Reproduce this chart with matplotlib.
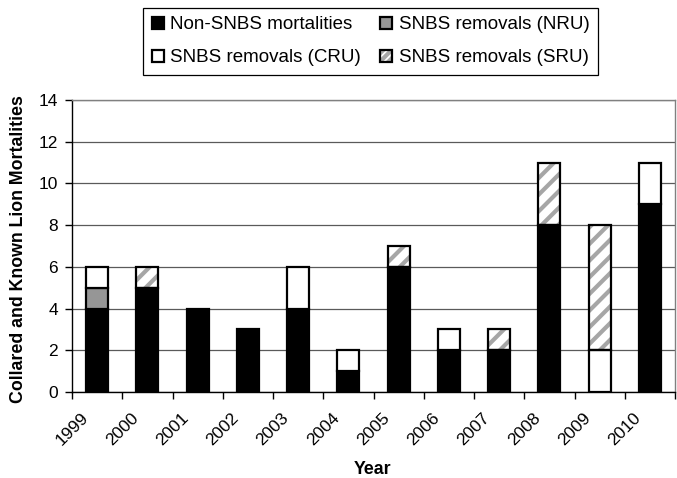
import numpy as np
import matplotlib
matplotlib.use("Agg")
import matplotlib.pyplot as plt
from matplotlib.patches import Patch

# ---- data ----
years = ["1999", "2000", "2001", "2002", "2003", "2004",
         "2005", "2006", "2007", "2008", "2009", "2010"]
non_snbs = [4, 5, 4, 3, 4, 1, 6, 2, 2, 8, 0, 9]
nru      = [1, 0, 0, 0, 0, 0, 0, 0, 0, 0, 0, 0]
cru      = [1, 0, 0, 0, 2, 1, 0, 1, 0, 0, 2, 2]
sru      = [0, 1, 0, 0, 0, 0, 1, 0, 1, 3, 6, 0]
series_labels = ["Non-SNBS mortalities", "SNBS removals (NRU)",
                 "SNBS removals (CRU)", "SNBS removals (SRU)"]
y_ticks = [0, 2, 4, 6, 8, 10, 12, 14]

plt.rcParams['font.family'] = ['Liberation Sans', 'DejaVu Sans']
plt.rcParams['hatch.linewidth'] = 3.0

fig = plt.figure(figsize=(6.77, 4.78), dpi=100)
ax = fig.add_axes([72/677, 1-392/478, 603/677, 292/478])

x = np.arange(len(years))
width = 0.44
edge_lw = 1.6
hatch_gray = '#a6a6a6'

styles = [dict(color='black'), dict(color='#969696'),
          dict(color='white'), dict(color='white', hatch='//')]
bottom = np.zeros(len(years))
for vals, st in zip([non_snbs, nru, cru, sru], styles):
    v = np.array(vals, dtype=float)
    m = v > 0
    if st.get('hatch'):
        ax.bar(x[m], v[m], width, bottom=bottom[m], facecolor='white',
               edgecolor=hatch_gray, hatch=st['hatch'], linewidth=0, zorder=3)
        ax.bar(x[m], v[m], width, bottom=bottom[m], fill=False,
               edgecolor='black', linewidth=edge_lw, zorder=4)
    else:
        ax.bar(x[m], v[m], width, bottom=bottom[m], facecolor=st['color'],
               edgecolor='black', linewidth=edge_lw, zorder=4)
    bottom += v

ax.set_xlim(-0.5, len(years) - 0.5)
ax.set_ylim(0, 14)
ax.set_yticks(y_ticks)
ax.set_yticklabels([str(t) for t in y_ticks], fontsize=12.5)
ax.set_xticks(np.arange(len(years) + 1) - 0.5)
ax.set_xticklabels(years + [""], rotation=45, ha='center', fontsize=12.5)
ax.tick_params(axis='x', length=5, width=1, pad=8, direction='out')
ax.tick_params(axis='y', length=5, width=1, pad=5, direction='out')

ax.yaxis.grid(True, color='#5a5a5a', linewidth=0.9, zorder=0)
ax.set_axisbelow(True)
for s in ['top', 'right']:
    ax.spines[s].set_color('#808080')
    ax.spines[s].set_linewidth(1.0)
for s in ['left', 'bottom']:
    ax.spines[s].set_color('black')
    ax.spines[s].set_linewidth(1.0)

fig.text(19/677, 1-249.5/478, "Collared and Known Lion Mortalities",
         rotation=90, ha='center', va='center', fontsize=12.8, fontweight='bold')
fig.text(373/677, 1-470/478, "Year", ha='center', va='center',
         fontsize=12.8, fontweight='bold')

h_non = Patch(facecolor='black', edgecolor='black', linewidth=edge_lw)
h_nru = Patch(facecolor='#969696', edgecolor='black', linewidth=edge_lw)
h_cru = Patch(facecolor='white', edgecolor='black', linewidth=edge_lw)
h_sru = (Patch(facecolor='white', edgecolor=hatch_gray, hatch='////', linewidth=0),
         Patch(fill=False, edgecolor='black', linewidth=edge_lw))
handles = [h_non, h_cru, h_nru, h_sru]
labels = [series_labels[0], series_labels[2], series_labels[1], series_labels[3]]
leg = fig.legend(handles, labels, ncol=2, loc='upper center',
                 bbox_to_anchor=(370.5/677, 1-8/478), fontsize=13.5,
                 frameon=True, fancybox=False, framealpha=1, edgecolor='black',
                 handlelength=0.65, handleheight=0.65, handletextpad=0.35,
                 columnspacing=1.0, labelspacing=0.85, borderpad=0.45,
                 borderaxespad=0)
leg.get_frame().set_linewidth(0.9)

fig.savefig("out.png", dpi=100)
